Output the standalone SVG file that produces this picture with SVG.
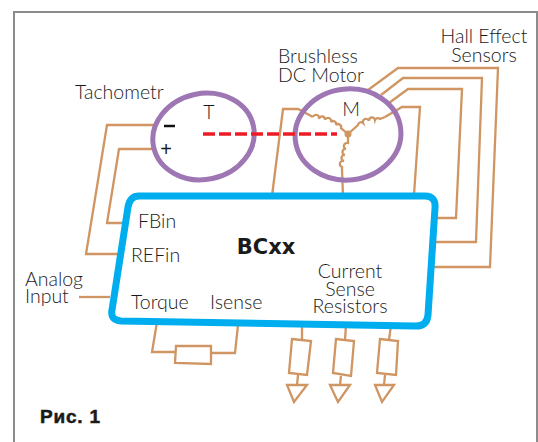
<svg xmlns="http://www.w3.org/2000/svg" width="538" height="442" viewBox="0 0 538 442">
<style>
.w{fill:none;stroke:#cf9562;stroke-width:2.300}
.t{font-family:Lato,"Liberation Sans",sans-serif;font-size:19.500px;font-weight:300;fill:#1a1a1a}
.m{text-anchor:middle}
.e{fill:none;stroke:#9e76b4;stroke-width:5}
</style>
<rect width="538" height="442" fill="#fff"/>
<path d="M14 442V12H537V442" fill="none" stroke="#8c8c8c" stroke-width="2"/>
<g id="connectors">
<path class="w" d="M156 125H107L86 254H118"/>
<path class="w" d="M152 149H119L107 223H124"/>
<path class="w" d="M79 297H110"/>
<path class="w" d="M272 196L283 109H298L313 117"/>
<path class="w" d="M343 196L342 170"/>
<path class="w" d="M385 117L402 107H420L414 195"/>
<path class="w" d="M368 90L398 68H498L490 267H429"/>
<path class="w" d="M381 95L403 78H482L476 242H431"/>
<path class="w" d="M389 103L408 89H462L456 218H432"/>
<path class="w" d="M157 322L152 352H175M211 353H235L238 325"/>
<path class="w" d="M302 325L302 339M298 375L297 385"/>
<path class="w" d="M346 325L345 340M341 376L340 385"/>
<path class="w" d="M391 325L389 340M385 375L384 385"/>
<path class="w" d="M313 117a3 3 0 0 1 6 2a3 3 0 0 1 6 1a3 3 0 0 1 6 2a3 3 0 0 1 5 3a3 3 0 0 1 5 3L348 134M348 134L358 125a3 3 0 0 1 5-2a3 3 0 0 1 6-2a3 3 0 0 1 6-1a3 3 0 0 1 5-1L385 117M348 134L348 143a3 3 0 0 0-2 6a3 3 0 0 0-1 6a3 3 0 0 0-1 6a3 3 0 0 0-2 6L342 170"/>
<circle cx="348" cy="134" r="3.500" fill="#cf9562"/>
</g>
<g id="tachometer">
<ellipse class="e" cx="203.500" cy="136.500" rx="51" ry="43" transform="rotate(-12 203.500 136.500)"/>
<text class="t m" x="209" y="119">T</text>
<path d="M164 126H175" stroke="#111" stroke-width="2.500"/>
<text x="166" y="156" text-anchor="middle" font-family="'Liberation Sans',sans-serif" font-size="20" fill="#1a1a1a">+</text>
<text class="t" x="75" y="99">Tachometr</text>
</g>
<g id="motor">
<ellipse class="e" cx="348" cy="134.500" rx="53" ry="45.500" transform="rotate(-6 348 134.500)"/>
<text class="t m" x="351" y="116">M</text>
<text class="t" x="278" y="63">Brushless</text>
<text class="t" x="278" y="82">DC Motor</text>
</g>
<path id="shaft" d="M203 134H337" fill="none" stroke="#ed1c24" stroke-width="3.500" stroke-dasharray="12 4"/>
<g id="hall"><text class="t m" x="484" y="43">Hall Effect</text><text class="t m" x="484" y="62">Sensors</text></g>
<g id="analog"><text class="t" x="25" y="286">Analog</text><text class="t" x="25" y="303">Input</text></g>
<g id="bcxx">
<path d="M139 196H425Q436 196 435 208L428 315Q427 327 414 326L121 321Q110 320 112 310L128 207Q130 196 139 196Z" fill="none" stroke="#00aeef" stroke-width="7"/>
<text class="t" x="138" y="228">FBin</text>
<text class="t" x="131" y="262">REFin</text>
<text class="t" x="131" y="309">Torque</text>
<text class="t" x="210" y="309">Isense</text>
<text x="266" y="254" text-anchor="middle" font-family="'DejaVu Sans',sans-serif" font-size="21" font-weight="700" fill="#1a1a1a">BCxx</text>
<text class="t m" x="350" y="278">Current</text>
<text class="t m" x="350" y="296">Sense</text>
<text class="t m" x="350" y="313">Resistors</text>
</g>
<g id="r-torque"><path class="w" d="M176 346L211 346L211 364L175 363Z"/></g>
<g id="r1"><path class="w" d="M292 339L311 341L307 375L289 373Z"/><path class="w" d="M287 385H307L294 402Z"/></g>
<g id="r2"><path class="w" d="M336 339L354 341L351 376L333 373Z"/><path class="w" d="M330 385H350L338 402Z"/></g>
<g id="r3"><path class="w" d="M380 339L398 341L396 375L377 373Z"/><path class="w" d="M375 385H394L382 402Z"/></g>
<text id="caption" x="40" y="423" font-family="'Liberation Sans',sans-serif" font-size="19" font-weight="700" letter-spacing="0.800" stroke="#1a1a1a" stroke-width="0.500" fill="#1a1a1a">Рис. 1</text>
</svg>
